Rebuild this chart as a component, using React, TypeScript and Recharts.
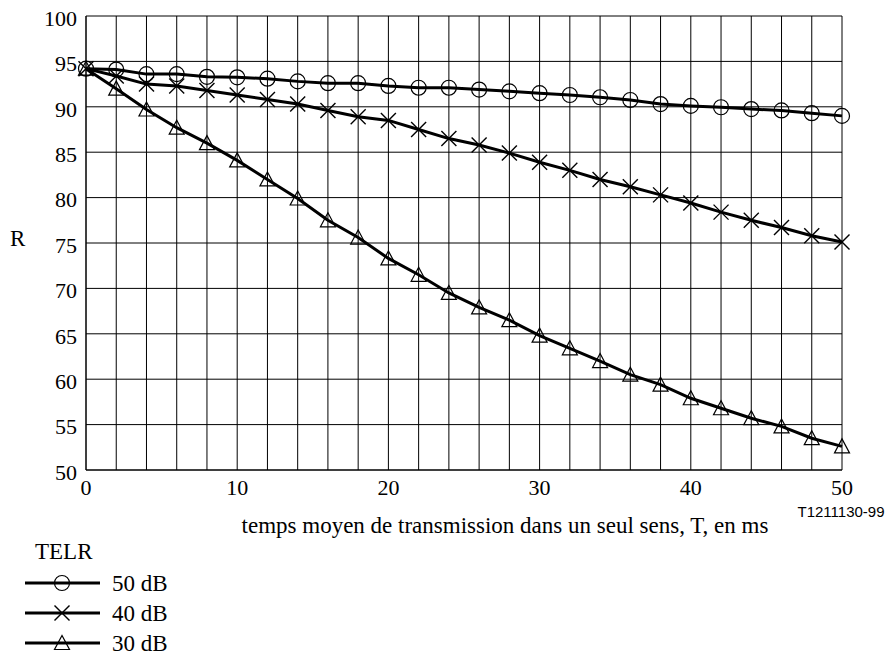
import { CartesianGrid, Label, Legend, Line, LineChart, XAxis, YAxis } from 'recharts'

const times = [0, 2, 4, 6, 8, 10, 12, 14, 16, 18, 20, 22, 24, 26, 28, 30, 32, 34, 36, 38, 40, 42, 44, 46, 48, 50]
const telr50 = [94.2, 94.1, 93.6, 93.6, 93.3, 93.25, 93.1, 92.8, 92.6, 92.6, 92.3, 92.1, 92.1, 91.9, 91.7, 91.5, 91.3, 91.05, 90.75, 90.3, 90.1, 89.95, 89.75, 89.6, 89.3, 89.0]
const telr40 = [94.2, 93.4, 92.5, 92.3, 91.8, 91.3, 90.8, 90.3, 89.6, 88.9, 88.5, 87.5, 86.5, 85.8, 84.9, 83.9, 83.0, 82.0, 81.2, 80.3, 79.4, 78.4, 77.5, 76.7, 75.8, 75.1]
const telr30 = [94.2, 92.0, 89.7, 87.7, 86.0, 84.1, 82.0, 79.9, 77.5, 75.6, 73.3, 71.5, 69.5, 67.9, 66.5, 64.8, 63.4, 62.0, 60.5, 59.4, 57.9, 56.8, 55.7, 54.8, 53.5, 52.6]

const xTicks = [0, 2, 4, 6, 8, 10, 12, 14, 16, 18, 20, 22, 24, 26, 28, 30, 32, 34, 36, 38, 40, 42, 44, 46, 48, 50]
const xLabelled = [0, 10, 20, 30, 40, 50]
const yTicks = [50, 55, 60, 65, 70, 75, 80, 85, 90, 95, 100]

const seriesNames = ['50 dB', '40 dB', '30 dB']
const legendTitle = 'TELR'

const serif = '"Liberation Serif", "Times New Roman", serif'

const data = times.map((t, i) => ({
  t,
  d50: telr50[i],
  d40: telr40[i],
  d30: telr30[i],
}))

type MarkProps = { cx?: number; cy?: number; index?: number }

function Circle({ cx = 0, cy = 0 }: MarkProps) {
  return <circle cx={cx} cy={cy} r={7.5} fill="none" stroke="#000" strokeWidth={1.2} />
}

function Cross({ cx = 0, cy = 0 }: MarkProps) {
  const s = 7.5
  return (
    <g stroke="#000" strokeWidth={1.4}>
      <line x1={cx - s} y1={cy - s} x2={cx + s} y2={cy + s} />
      <line x1={cx - s} y1={cy + s} x2={cx + s} y2={cy - s} />
    </g>
  )
}

function Triangle({ cx = 0, cy = 0 }: MarkProps) {
  const w = 7.5
  return (
    <polygon
      points={`${cx},${cy - 7.5} ${cx - w},${cy + 6.5} ${cx + w},${cy + 6.5}`}
      fill="none"
      stroke="#000"
      strokeWidth={1.2}
    />
  )
}

const markers = [Circle, Cross, Triangle]

function TelrLegend() {
  return (
    <div style={{ fontFamily: serif, fontSize: 23, color: '#000', lineHeight: 1 }}>
      <div style={{ marginLeft: 35, height: 28 }}>{legendTitle}</div>
      {seriesNames.map((name, i) => {
        const Mark = markers[i]
        return (
          <div key={name} style={{ display: 'flex', alignItems: 'center', height: 30 }}>
            <svg width={104} height={30} style={{ flex: 'none' }}>
              <line x1={25} y1={15} x2={100} y2={15} stroke="#000" strokeWidth={3} />
              <Mark cx={62} cy={15} />
            </svg>
            <span style={{ marginLeft: 8, fontFamily: serif }}>{name}</span>
          </div>
        )
      })}
    </div>
  )
}

export default function App() {
  return (
    <div style={{ position: 'absolute', left: 0, top: 0, fontFamily: serif }}>
      <style>{`body{margin:0;font-family:${serif}} .recharts-text{font-family:${serif}}`}</style>
      <LineChart width={890} height={655} data={data} margin={{ top: 16, right: 48, left: 6, bottom: 155 }}>
        <CartesianGrid stroke="#000" strokeWidth={1} />
        <XAxis
          dataKey="t"
          type="number"
          domain={[0, 50]}
          ticks={xTicks}
          interval={0}
          height={30}
          tickSize={0}
          tickMargin={9}
          axisLine={{ stroke: '#000' }}
          tick={{ fill: '#000', fontSize: 22 }}
          tickFormatter={(v: number) => (xLabelled.includes(v) ? String(v) : '')}
        >
          <Label
            value="temps moyen de transmission dans un seul sens, T, en ms"
            position="bottom"
            offset={17}
            dx={41}
            fill="#000"
            fontSize={23}
          />
          <Label
            value="T1211130-99"
            position="bottom"
            offset={6}
            dx={377}
            fill="#000"
            style={{ fontFamily: '"Liberation Sans", Arial, sans-serif' }}
            fontSize={15}
          />
        </XAxis>
        <YAxis
          type="number"
          domain={[50, 100]}
          ticks={yTicks}
          interval={0}
          width={80}
          tickSize={0}
          tickMargin={9}
          axisLine={{ stroke: '#000' }}
          tick={{ fill: '#000', fontSize: 22, dy: 2 }}
        >
          <Label value="R" position="insideLeft" offset={4} dy={-5} fill="#000" fontSize={23} />
        </YAxis>
        <Line
          dataKey="d50"
          name={seriesNames[0]}
          type="linear"
          stroke="#000"
          strokeWidth={3}
          isAnimationActive={false}
          dot={(p: MarkProps) => <Circle key={`c${p.index}`} cx={p.cx} cy={p.cy} />}
        />
        <Line
          dataKey="d40"
          name={seriesNames[1]}
          type="linear"
          stroke="#000"
          strokeWidth={3}
          isAnimationActive={false}
          dot={(p: MarkProps) => <Cross key={`x${p.index}`} cx={p.cx} cy={p.cy} />}
        />
        <Line
          dataKey="d30"
          name={seriesNames[2]}
          type="linear"
          stroke="#000"
          strokeWidth={3}
          isAnimationActive={false}
          dot={(p: MarkProps) => <Triangle key={`t${p.index}`} cx={p.cx} cy={p.cy} />}
        />
        <Legend
          layout="horizontal"
          verticalAlign="middle"
          align="center"
          content={() => <TelrLegend />}
          wrapperStyle={{ left: 0, top: 540, width: 300, height: 114 }}
        />
      </LineChart>
    </div>
  )
}
